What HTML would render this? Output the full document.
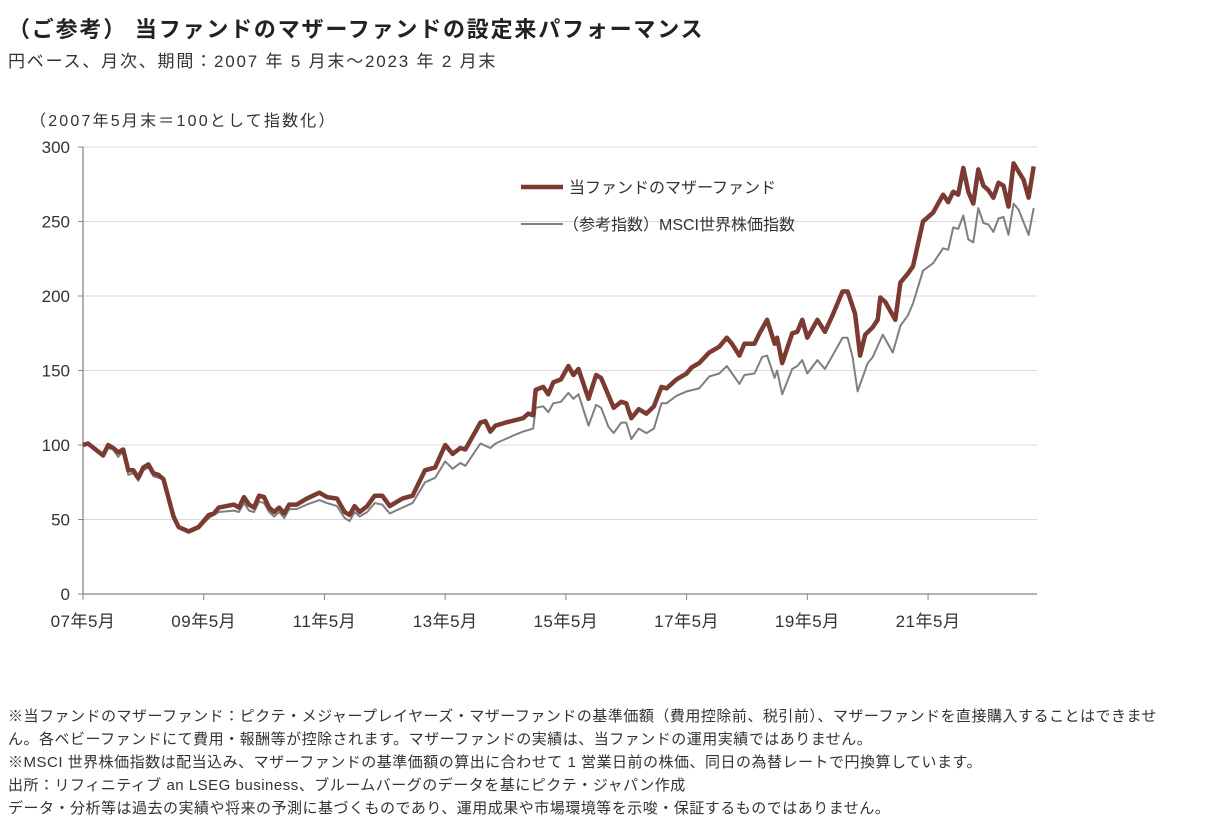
<!DOCTYPE html>
<html><head><meta charset="utf-8">
<style>
body{margin:0;background:#fff;width:1213px;height:833px;overflow:hidden;font-family:"Liberation Sans","Noto Sans CJK JP",sans-serif;color:#333}
.t{position:absolute;white-space:nowrap}
</style></head><body>
<div class="t" style="left:8px;top:12px;font-size:22px;letter-spacing:1.8px;font-weight:bold;color:#222">（ご参考） 当ファンドのマザーファンドの設定来パフォーマンス</div>
<div class="t" style="left:8px;top:47px;font-size:17px;letter-spacing:1.8px">円ベース、月次、期間：2007 年 5 月末～2023 年 2 月末</div>
<svg id="chart" width="1213" height="833" style="position:absolute;left:0;top:0"></svg>
<div class="t" style="left:8px;top:705px;font-size:15px;letter-spacing:0.5px;line-height:23px;color:#333">※当ファンドのマザーファンド：ピクテ・メジャープレイヤーズ・マザーファンドの基準価額（費用控除前、税引前）、マザーファンドを直接購入することはできませ<br>ん。各ベビーファンドにて費用・報酬等が控除されます。マザーファンドの実績は、当ファンドの運用実績ではありません。<br>※MSCI 世界株価指数は配当込み、マザーファンドの基準価額の算出に合わせて 1 営業日前の株価、同日の為替レートで円換算しています。<br>出所：リフィニティブ an LSEG business、ブルームバーグのデータを基にピクテ・ジャパン作成<br>データ・分析等は過去の実績や将来の予測に基づくものであり、運用成果や市場環境等を示唆・保証するものではありません。</div>
<script>
const yTicks=[0,50,100,150,200,250,300];
const xTickLabels=["07年5月","09年5月","11年5月","13年5月","15年5月","17年5月","19年5月","21年5月"];
const xTickMonths=[0,24,48,72,96,120,144,168];
const fundMonths=[0,1,4,5,6,7,8,9,10,11,12,13,14,15,16,18,19,21,23,25,26,27,30,31,32,33,34,35,36,37,38,39,40,41,42.5,44.5,47,48.5,50.5,52,53,54,55,56.5,58,59.5,61,63.5,65.5,68,70,72,73.5,75,76,79,80,81,82,84,87.5,88.5,89.5,90,91.5,92.5,93.5,95,96.5,97.5,98.5,100.5,102,103,105.5,107,108,109,110.5,112,113.5,115,116,118,120,121,122.5,124.5,126.5,128,129,130.5,131.5,133.5,134.5,136,137.5,138,139,141,142,143,144,146,147.5,149,151,152,153.5,154.5,155.5,157,158,158.5,159.5,161.5,162.5,164,165,166,167,169,171,172,173,174,175,176,177,178,179,180,181,182,183,184,185,187,188,189];
const fundValues=[100,101,93,100,98,95,97,83,83,78,85,87,81,80,77,52,45,42,45,53,54,58,60,58,65,60,58,66,65,58,55,58,54,60,60,64,68,65,64,55,53,59,55,59,66,66,59,64,66,83,85,100,94,98,97,115,116,109,113,115,118,121,120,137,139,134,142,144,153,147,151,131,147,145,125,129,128,118,124,121,126,139,138,144,148,152,155,162,166,172,168,160,168,168,175,184,168,172,155,175,176,184,172,184,176,187,203,203,188,160,174,179,184,199,196,184,209,215,220,235,250,256,268,263,270,268,286,270,262,285,274,271,266,276,274,260,289,278,266,287];
const msciMonths=[0,1,4,5,6,7,8,9,10,11,12,13,14,16,18,19,21,23,25,27,30,31,32,33,34,35,36,37,38,39,40,41,42.5,44.5,47,48.5,50.5,52,53,54,55,56.5,58,59.5,61,63.5,65.5,68,70,72,73.5,75,76,79,81,82,84,86,87.5,89.5,90,91.5,92.5,93.5,95,96.5,97.5,98.5,100.5,102,103,104.5,105.5,107,108,109,110.5,112,113.5,115,116,118,120,122.5,124.5,126.5,128,130.5,131.5,133.5,135,136,137.5,138,139,141,142,143,144,146,147.5,149,151,152,153,154,156,157,159,161,162.5,164,165,167,169,171,172,173,174,175,176,177,178,179,180,181,182,183,184,185,186,188,189];
const msciValues=[100,100,92,98,97,92,96,80,81,76,83,85,79,77,50,44,41,44,51,55,56,55,61,56,55,62,61,55,52,55,51,57,57,60,63,61,59,51,49,55,52,55,61,60,54,58,61,75,78,89,84,88,86,101,98,101,104,107,109,111,125,126,122,128,129,135,131,134,113,127,125,112,108,115,115,104,111,108,111,128,128,133,136,138,146,148,153,141,147,148,159,160,145,150,134,151,153,157,148,157,151,160,172,172,159,136,155,159,174,162,180,187,195,217,222,232,231,246,245,254,238,236,259,249,248,243,252,253,241,262,258,241,259];
const NS="http://www.w3.org/2000/svg";
const svg=document.getElementById('chart');
const X0=83,PX=5.03,Y0=594,PY=447/300;
const xs=m=>X0+m*PX, ys=v=>Y0-v*PY;
function mk(tag,attrs,txt){const e=document.createElementNS(NS,tag);for(const k in attrs)e.setAttribute(k,attrs[k]);if(txt!==undefined)e.textContent=txt;svg.appendChild(e);return e;}
yTicks.forEach(v=>{
  if(v>0){const g=mk('line',{x1:X0,x2:1037,y1:ys(v),y2:ys(v),stroke:'#d9d9d9','stroke-width':1});
  
  }
  const t=mk('text',{x:70,y:ys(v)+6,'text-anchor':'end','font-size':17,fill:'#333'},String(v));
  
  
  const tk=mk('line',{x1:X0-5,x2:X0,y1:ys(v),y2:ys(v),stroke:'#888'});
  
  
});
const ya=mk('line',{x1:X0,x2:X0,y1:ys(300),y2:Y0,stroke:'#888','stroke-width':1.3});


const xa=mk('line',{x1:X0,x2:1037,y1:Y0,y2:Y0,stroke:'#888','stroke-width':1.3});


xTickMonths.forEach((m,i)=>{
  const tk=mk('line',{x1:xs(m),x2:xs(m),y1:Y0,y2:Y0+6,stroke:'#888'});
  
  
  const t=mk('text',{x:xs(m),y:627,'text-anchor':'middle','font-size':17,'letter-spacing':0.5,fill:'#333'},xTickLabels[i]);
  
  
});
const ul=mk('text',{x:30,y:126,'font-size':16,'letter-spacing':2.2,fill:'#333'},'（2007年5月末＝100として指数化）');


function pts(ms,vs){return ms.map((m,i)=>xs(m).toFixed(1)+','+ys(vs[i]).toFixed(1)).join(' ');}
const l2=mk('polyline',{points:pts(msciMonths,msciValues),fill:'none',stroke:'#7f7f7f','stroke-width':2,'stroke-linejoin':'round'});


const l1=mk('polyline',{points:pts(fundMonths,fundValues),fill:'none',stroke:'#7b3b32','stroke-width':4.5,'stroke-linejoin':'round'});


const lg1=mk('line',{x1:521,x2:563,y1:187,y2:187,stroke:'#7b3b32','stroke-width':4.5});


const lt1=mk('text',{x:569,y:193,'font-size':16,fill:'#333'},'当ファンドのマザーファンド');


const lg2=mk('line',{x1:521,x2:563,y1:224,y2:224,stroke:'#7f7f7f','stroke-width':2});


const lt2=mk('text',{x:563,y:230,'font-size':16,fill:'#333'},'（参考指数）MSCI世界株価指数');


</script>
</body></html>
